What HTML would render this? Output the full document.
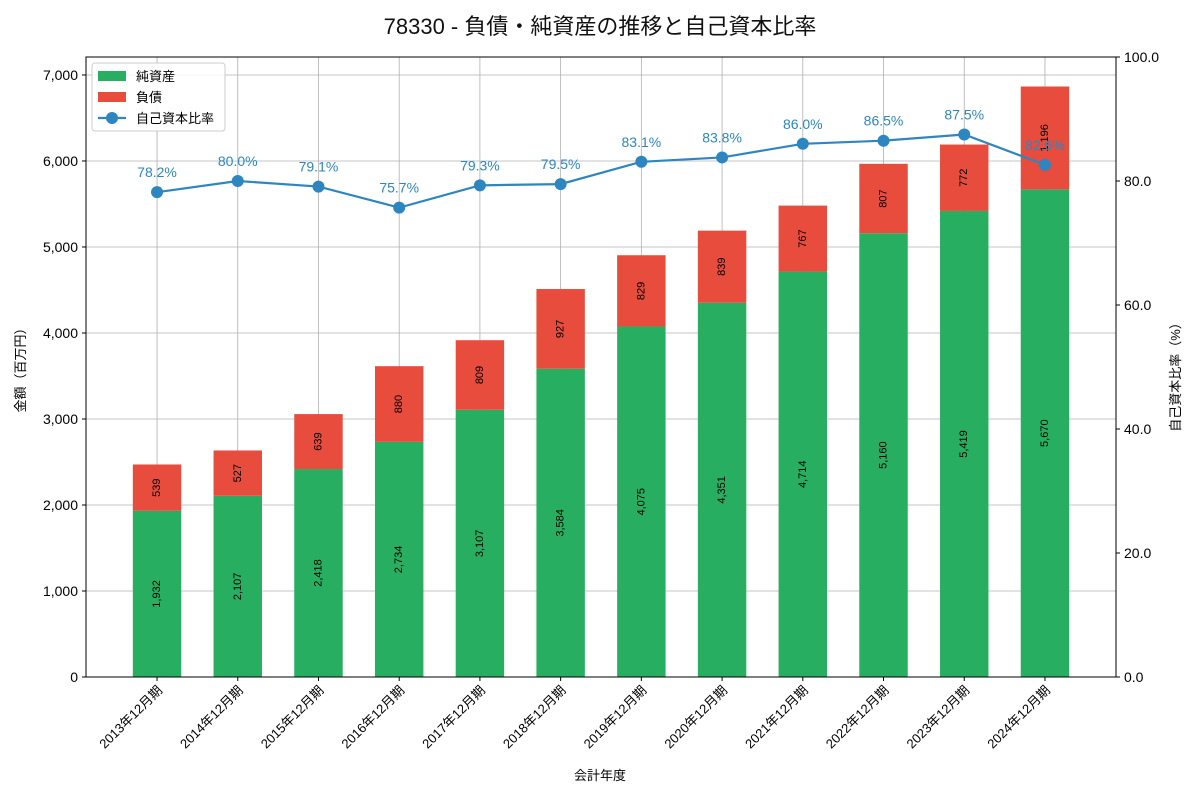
<!DOCTYPE html>
<html><head><meta charset="utf-8"><style>
body{margin:0;background:#fff;font-family:"Liberation Sans","Noto Sans CJK JP",sans-serif}
</style></head><body>
<svg id="c" width="1200" height="800" xmlns="http://www.w3.org/2000/svg" font-family="Liberation Sans, Noto Sans CJK JP, sans-serif">
<text x="600" y="34" text-anchor="middle" font-size="22" fill="#111">78330 - 負債・純資産の推移と自己資本比率</text>
<g id="grid"></g><g id="bars"></g><g id="line"></g><g id="axes"></g>
</svg>
<script>
const categories=["2013年12月期","2014年12月期","2015年12月期","2016年12月期","2017年12月期","2018年12月期","2019年12月期","2020年12月期","2021年12月期","2022年12月期","2023年12月期","2024年12月期"];
const netAssets=[1932,2107,2418,2734,3107,3584,4075,4351,4714,5160,5419,5670];
const liabilities=[539,527,639,880,809,927,829,839,767,807,772,1196];
const equityRatio=[78.2,80.0,79.1,75.7,79.3,79.5,83.1,83.8,86.0,86.5,87.5,82.6];
const leftTicks=[0,1000,2000,3000,4000,5000,6000,7000];
const rightTicks=[0,20,40,60,80,100];
const NS="http://www.w3.org/2000/svg";
const L=86,R=1116,T=57,B=677;
const xs=i=>L+(i+0.88)*(R-L)/12.76;
const yL=v=>B-v*(B-T)/7209;
const yR=v=>B-v*(B-T)/100;
const bw=0.6*(R-L)/12.76;
function mk(p,tag,a,txt){const e=document.createElementNS(NS,tag);for(const k in a)e.setAttribute(k,a[k]);if(txt!==undefined)e.textContent=txt;document.getElementById(p).appendChild(e);return e;}
const fmt=v=>v.toLocaleString('en-US');
// grid
categories.forEach((c,i)=>{const g=mk('grid','line',{x1:xs(i),x2:xs(i),y1:T,y2:B,stroke:'#b0b0b0','stroke-width':0.8});

});
leftTicks.forEach(v=>{const g=mk('grid','line',{x1:L,x2:R,y1:yL(v),y2:yL(v),stroke:'#b0b0b0','stroke-width':0.8});

});
// bars
categories.forEach((c,i)=>{
 const x=xs(i)-bw/2;
 const g=mk('bars','rect',{x:x,y:yL(netAssets[i]),width:bw,height:yL(0)-yL(netAssets[i]),fill:'#27ae60'});
 
 
 const r=mk('bars','rect',{x:x,y:yL(netAssets[i]+liabilities[i]),width:bw,height:yL(0)-yL(liabilities[i]),fill:'#e74c3c'});
 
 
 const y1=(yL(0)+yL(netAssets[i]))/2, y2=(yL(netAssets[i])+yL(netAssets[i]+liabilities[i]))/2;
 const t1=mk('bars','text',{x:xs(i),y:y1,'font-size':11,'text-anchor':'middle','dominant-baseline':'central',transform:`rotate(-90 ${xs(i)} ${y1})`},fmt(netAssets[i]));
 
 
 const t2=mk('bars','text',{x:xs(i),y:y2,'font-size':11,'text-anchor':'middle','dominant-baseline':'central',transform:`rotate(-90 ${xs(i)} ${y2})`},fmt(liabilities[i]));
 
 
});
// line
const pl=mk('line','polyline',{points:equityRatio.map((v,i)=>xs(i)+','+yR(v)).join(' '),fill:'none',stroke:'#2e86c1','stroke-width':2.2});


equityRatio.forEach((v,i)=>{
 const c=mk('line','circle',{cx:xs(i),cy:yR(v),r:6,fill:'#2e86c1'});
 
 
 const t=mk('line','text',{x:xs(i),y:yR(v)-15,'font-size':14,'text-anchor':'middle',fill:'#2e86c1'},v.toFixed(1)+'%');
 
 
});
// axes
const f=mk('axes','rect',{x:L,y:T,width:R-L,height:B-T,fill:'none',stroke:'#000','stroke-width':1});


leftTicks.forEach(v=>{mk('axes','line',{x1:L-4,x2:L,y1:yL(v),y2:yL(v),stroke:'#000'});
 const t=mk('axes','text',{x:L-8,y:yL(v)+5,'font-size':14,'text-anchor':'end'},fmt(v));
 
 });
rightTicks.forEach(v=>{mk('axes','line',{x1:R,x2:R+4,y1:yR(v),y2:yR(v),stroke:'#000'});
 const t=mk('axes','text',{x:R+8,y:yR(v)+5,'font-size':14},v.toFixed(1));
 
 });
categories.forEach((c,i)=>{mk('axes','line',{x1:xs(i),x2:xs(i),y1:B,y2:B+4,stroke:'#000'});
 const x=xs(i)+6,y=B+14;
 const t=mk('axes','text',{x:x,y:y,'font-size':13,'text-anchor':'end',transform:`rotate(-45 ${x} ${y})`},c);
 
 });
const xt=mk('axes','text',{x:600,y:780,'font-size':13,'text-anchor':'middle'},'会計年度');


const yt=mk('axes','text',{x:25,y:367,'font-size':13,'text-anchor':'middle',transform:'rotate(-90 25 367)'},'金額（百万円）');


const yt2=mk('axes','text',{x:1180,y:374,'font-size':13,'text-anchor':'middle',transform:'rotate(-90 1180 374)'},'自己資本比率（%）');


// legend
const lb=mk('axes','rect',{x:92,y:63,width:133,height:68,fill:'#fff','fill-opacity':0.85,stroke:'#ccc',rx:3});


const le=[['純資産','#27ae60'],['負債','#e74c3c']];
le.forEach((d,k)=>{const y=76+k*21;
 const r=mk('axes','rect',{x:98,y:y-5,width:28,height:10,fill:d[1]});
 
 
 const t=mk('axes','text',{x:136,y:y+5,'font-size':13},d[0]);
 
 });
mk('axes','line',{x1:98,x2:126,y1:118,y2:118,stroke:'#2e86c1','stroke-width':2.2});
mk('axes','circle',{cx:112,cy:118,r:6,fill:'#2e86c1'});
const lt=mk('axes','text',{x:136,y:123,'font-size':13},'自己資本比率');


</script>
</body></html>
